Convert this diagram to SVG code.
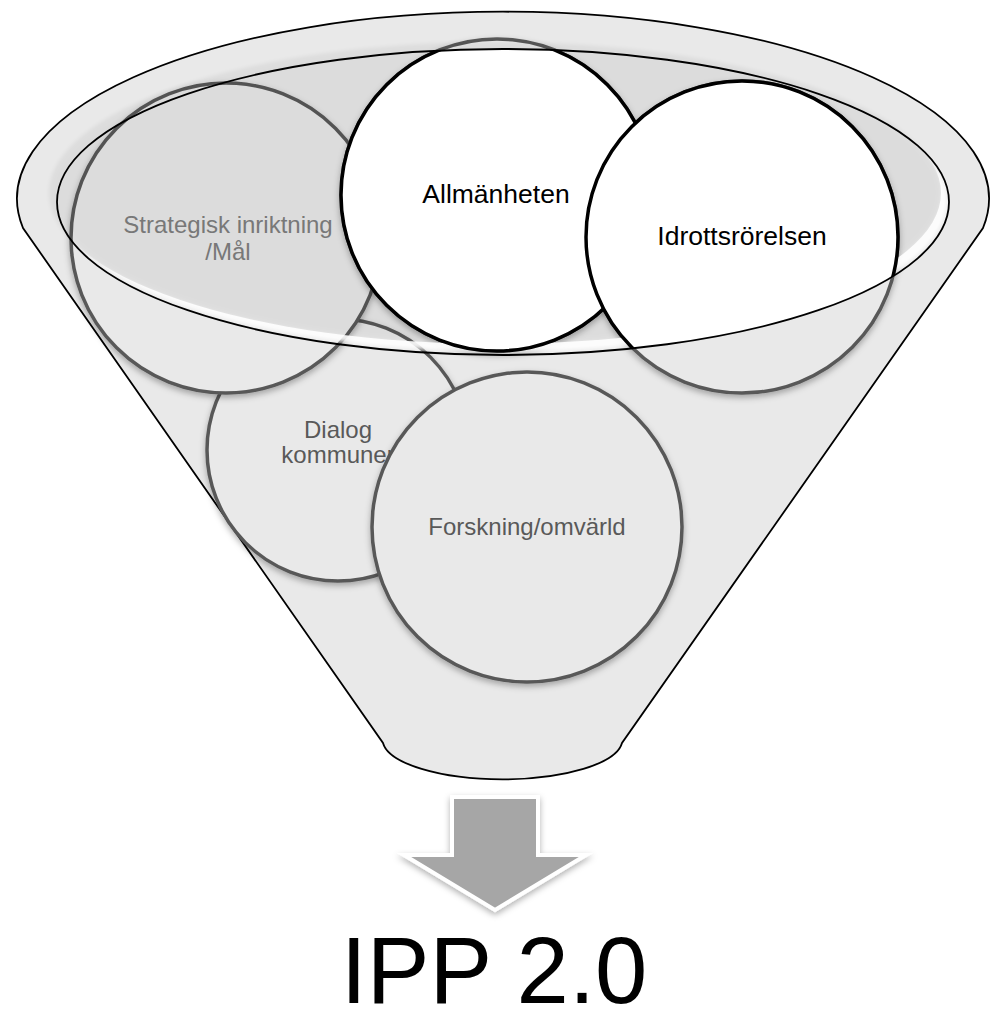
<svg xmlns="http://www.w3.org/2000/svg" width="991" height="1024" viewBox="0 0 991 1024">
<defs>
<style>
.gc{fill:#e9e9e9;stroke:#595959;stroke-width:3.5}
.wc{fill:#fff;stroke:#000;stroke-width:3.5}
.gt{font-family:"Liberation Sans",Arial,sans-serif;font-size:24px;fill:#595959;text-anchor:middle}
.bt{font-family:"Liberation Sans",Arial,sans-serif;font-size:26.5px;fill:#000;text-anchor:middle}
</style>
<filter id="sh" x="-15%" y="-15%" width="130%" height="135%"><feDropShadow dx="0" dy="3" stdDeviation="3" flood-color="#000" flood-opacity="0.3"/></filter>
<filter id="blur2" x="-5%" y="-5%" width="110%" height="110%"><feGaussianBlur stdDeviation="2"/></filter>
<clipPath id="lip"><ellipse cx="503" cy="202" rx="446" ry="153"/></clipPath>
<mask id="cres"><rect width="991" height="1024" fill="#fff"/><ellipse cx="495" cy="193" rx="446" ry="151" fill="#000"/></mask>
</defs>

<g id="funnel">
<path d="M 23 228 A 486 187 0 1 1 983 228 L 622 743 A 120 40 0 0 1 383 743 Z" fill="#e9e9e9" stroke="#000" stroke-width="1.8"/>
</g>

<g id="node-dialog">
<circle class="gc" cx="338" cy="450" r="131" filter="url(#sh)"/>
<text class="gt" x="338" y="438">Dialog</text>
<text class="gt" x="338" y="463">kommuner</text>
</g>

<g id="node-forskning">
<circle class="gc" cx="527" cy="527" r="155" filter="url(#sh)"/>
<text class="gt" x="527" y="535">Forskning/omvärld</text>
</g>

<g id="node-strategisk">
<circle class="gc" cx="226" cy="238" r="155" filter="url(#sh)"/>
<text class="gt" x="228" y="233" style="fill:#7f7f7f">Strategisk inriktning</text>
<text class="gt" x="228" y="260" style="fill:#7f7f7f">/Mål</text>
</g>

<g id="node-allmanheten-base">
<circle class="gc" cx="497" cy="195" r="156" filter="url(#sh)"/>
</g>
<g id="node-idrott-base">
<circle class="gc" cx="742" cy="237" r="156" filter="url(#sh)"/>
</g>

<g id="lip-shading">
<ellipse cx="495" cy="193" rx="446" ry="151" fill="#000" opacity="0.05" filter="url(#blur2)"/>
<ellipse cx="503" cy="201" rx="444" ry="151" fill="#fff" opacity="0.9" mask="url(#cres)" filter="url(#blur2)"/>
</g>

<g id="node-allmanheten" clip-path="url(#lip)">
<circle class="wc" cx="497" cy="195" r="156"/>
</g>
<g id="node-idrottsrorelsen" clip-path="url(#lip)">
<circle class="wc" cx="742" cy="237" r="156"/>
</g>
<text class="bt" x="496" y="203">Allmänheten</text>
<text class="bt" x="742" y="245">Idrottsrörelsen</text>

<g id="lip-line">
<ellipse cx="503" cy="202" rx="446" ry="153" fill="none" stroke="#000" stroke-width="1.8"/>
</g>

<g id="arrow">
<polygon points="452,797 538,797 538,855 586,855 495,910 404,855 452,855" fill="#a6a6a6" stroke="#fff" stroke-width="4" stroke-linejoin="miter" filter="url(#sh)"/>
</g>

<g id="result">
<text x="494" y="1003" font-family="'Liberation Sans', Arial, sans-serif" font-size="94" fill="#000" text-anchor="middle">IPP 2.0</text>
</g>
</svg>
